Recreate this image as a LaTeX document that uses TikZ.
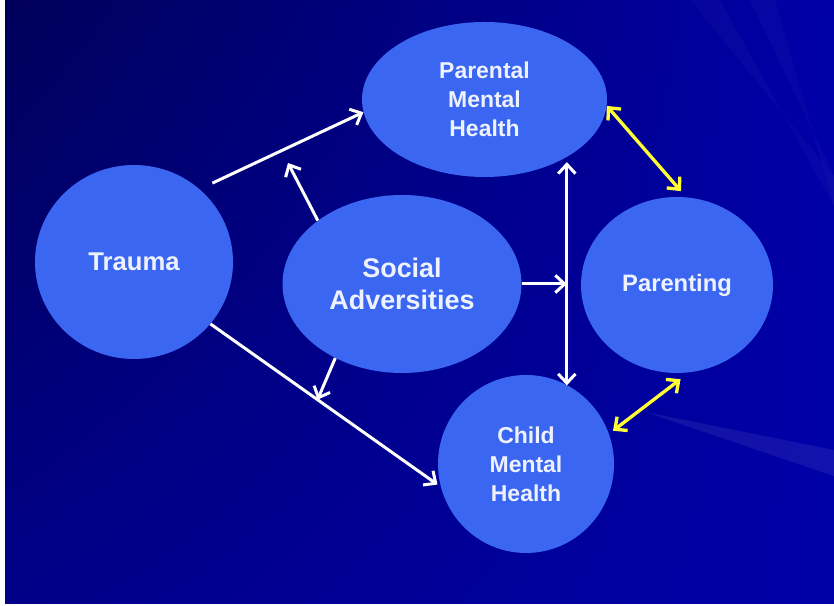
\documentclass[tikz,border=0pt]{standalone}
\usepackage{fontspec}
\setmainfont{Liberation Sans}
\usetikzlibrary{arrows.meta,shapes.geometric,shadings,calc}
\definecolor{NavyDark}{HTML}{00005A}
\definecolor{NavyMid}{HTML}{000088}
\definecolor{NavyLight}{HTML}{0000A8}
\definecolor{Bubble}{HTML}{3A66F2}
\definecolor{BubbleText}{HTML}{EEF2FF}
\definecolor{Tie}{HTML}{FFFF33}

\begin{document}
\begin{tikzpicture}[x=0.3mm,y=0.3mm,
  >={Straight Barb[length=2.8mm,width=5.2mm]},
  bubble/.style={ellipse,fill=Bubble,inner sep=0pt,text=BubbleText,align=center},
  flow/.style={draw=white,line width=0.9mm,->},
  tie/.style={draw=Tie,line width=1mm,<->}]
\fill[white] (0,0) rectangle (834,606);
\shade[upper left=NavyDark,upper right=NavyLight,lower left=NavyMid,lower right=NavyLight] (5,2) rectangle (834,606);
\fill[white,opacity=0.07] (645,194) -- (834,156) -- (834,130) -- cycle;
\foreach \a/\b in {690/720,750/775} {
  \fill[white,opacity=0.025] (\a,606) -- (\b,606) -- (834,400) -- (834,430) -- cycle;
}
\node[bubble,minimum width=73.5mm,minimum height=46.5mm,font=\bfseries\fontsize{19.6}{24.8}\selectfont] (pmh) at (484.5,506.5) {Parental\\Mental\\Health};
\node[bubble,minimum width=59.4mm,minimum height=58.2mm,font=\bfseries\fontsize{21.9}{26}\selectfont] (trauma) at (134,344) {Trauma};
\node[bubble,minimum width=71.7mm,minimum height=53.4mm,font=\bfseries\fontsize{23}{27.3}\selectfont] (sa) at (402,322) {Social\\Adversities};
\node[bubble,minimum width=57.6mm,minimum height=52.8mm,font=\bfseries\fontsize{20.3}{24}\selectfont] (par) at (677,321) {Parenting};
\node[bubble,minimum width=52.8mm,minimum height=53.4mm,font=\bfseries\fontsize{19.6}{24.8}\selectfont] (cmh) at (526,142) {Child\\Mental\\Health};
\coordinate (saup) at (288,443);
\draw[flow,shorten <=4.2mm] (trauma.48) -- (pmh.186.4);
\draw[flow] (sa.143.6) -- (saup);
\draw[flow] (sa.east) -- (sa.east -| pmh.325.2);
\draw[flow,<->,shorten <=1.5mm] (pmh.325.2) -- (pmh.325.2 |- cmh.62.6);
\draw[flow,shorten >=1.2mm] (trauma.321.6) -- coordinate[pos=0.465] (tcmid) (cmh.195.1);
\draw[flow] (sa.228.6) -- (tcmid);
\draw[tie,shorten >=2.4mm] (pmh.357) -- (par.84.6);
\draw[tie,shorten <=1.5mm,shorten >=3.3mm] (cmh.20.8) -- (par.278.1);
\end{tikzpicture}
\end{document}
